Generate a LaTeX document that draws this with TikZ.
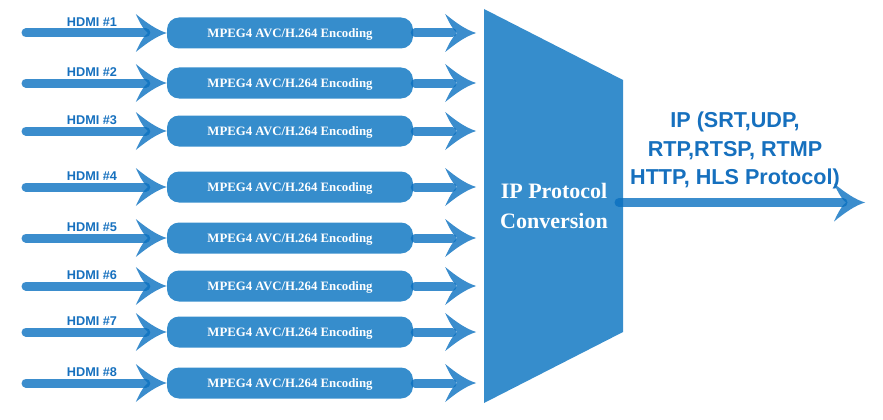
\documentclass[tikz,border=0pt]{standalone}
\usepackage{fontspec}
\setmainfont{Liberation Serif}
\newfontfamily\arialfont{Liberation Sans}
\usetikzlibrary{calc}
\definecolor{boxblue}{HTML}{368DCC}
\definecolor{arrowblue}{HTML}{0A70C0}
\definecolor{labelblue}{HTML}{1670BE}
\tikzset{
  encbox/.style={draw=none, fill=boxblue, rounded corners=12pt, minimum width=246pt,
    minimum height=31pt, inner sep=0pt, text=white,
    font=\fontsize{12.8}{14}\selectfont\bfseries, text height=8.6pt, text depth=0pt},
  hdmilabel/.style={text=labelblue, font=\arialfont\fontsize{12.7}{14}\selectfont\bfseries,
    inner sep=0pt, anchor=base},
  shaft/.style={draw=arrowblue, draw opacity=0.8, line width=9pt, line cap=round},
  headpic/.pic={\fill[arrowblue, fill opacity=0.8] (0,0) .. controls (-10,-3) and (-20,-10) .. (-31,-19)
     .. controls (-27,-10) and (-23,-3) .. (-19,0)
     .. controls (-23,3) and (-27,10) .. (-31,19)
     .. controls (-20,10) and (-10,3) .. (0,0) -- cycle;},
  convtext/.style={text=white, font=\fontsize{22}{30}\selectfont\bfseries, align=center, inner sep=0pt, anchor=north},
  iptext/.style={text=labelblue, font=\arialfont\fontsize{21.6}{28.5}\selectfont\bfseries, align=center, inner sep=0pt, anchor=north}
}
\begin{document}
\begin{tikzpicture}[x=1pt,y=-1pt]
\useasboundingbox (0,0) rectangle (883,420);
% conversion block
\coordinate (tl) at (484,9);
\coordinate (tr) at (623,80);
\coordinate (br) at (623,332);
\coordinate (bl) at (484,403);
\fill[boxblue] (tl) -- (tr) -- (br) -- (bl) -- cycle;
\node[convtext] (conv) at (554,183) {IP Protocol\\Conversion};
% rows
\foreach \i/\y in {1/33,2/83,3/131,4/187,5/238,6/286,7/332,8/383}{
  \node[encbox] (enc\i) at (290,\y) {MPEG4 AVC/H.264 Encoding};
  \coordinate (in\i) at (26,\y);
  \node[hdmilabel] (hdmi\i) at (92,\y-6.5) {HDMI \#\i};
  \draw[shaft] (in\i) -- ($(enc\i.west)+(-21,0)$);
  \pic at (enc\i.west) {headpic};
  \coordinate (tip\i) at ($(enc\i.east)+(63,0)$);
  \draw[shaft] ($(enc\i.east)+(2,0)$) -- ($(tip\i)+(-24,0)$);
  \pic at (tip\i) {headpic};
}
% output
\coordinate (outstart) at (619,202.5);
\coordinate (outtip) at (865,202.5);
\draw[shaft] (outstart) -- ($(outtip)+(-22,0)$);
\pic at (outtip) {headpic};
\node[iptext] (ip) at (735,112) {IP (SRT,UDP,\\RTP,RTSP, RTMP\\HTTP, HLS Protocol)};
\end{tikzpicture}
\end{document}
